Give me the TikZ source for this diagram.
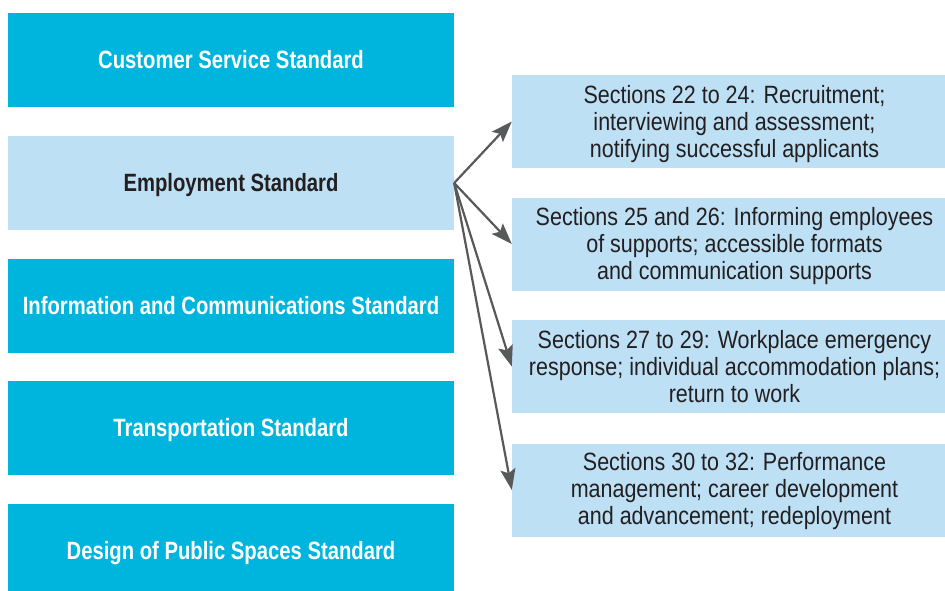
\documentclass[tikz,border=0pt]{standalone}
\usepackage{fontspec}
\setmainfont{Liberation Sans}
\newfontfamily\stdfont[FakeStretch=0.81]{Liberation Sans}
\newfontfamily\secfont[FakeStretch=0.86]{Liberation Sans}
\usetikzlibrary{arrows.meta}
\definecolor{stdblue}{HTML}{00B5DD}
\definecolor{secblue}{HTML}{BDE0F5}
\definecolor{arrgray}{HTML}{58595B}
\definecolor{txtdark}{HTML}{231F20}
\tikzset{
  stdbox/.style={fill=stdblue, text=white, font=\stdfont\bfseries\fontsize{25}{28}\selectfont,
    minimum width=446pt, minimum height=94pt, inner sep=0pt, text depth=1pt},
  empbox/.style={stdbox, fill=secblue, text=txtdark},
  secbox/.style={fill=secblue, minimum width=433pt, minimum height=93pt, inner sep=0pt},
  sectext/.style={text=txtdark, font=\secfont\fontsize{25}{27}\selectfont, align=center, inner sep=0pt},
  arr/.style={draw=arrgray, line width=2.2pt, -{Stealth[length=21pt, width=15pt, inset=4pt]}}
}
\begin{document}
\begin{tikzpicture}[x=1pt, y=-1pt, line join=round]
  \useasboundingbox (0,0) rectangle (945,591);
  \clip (0,0) rectangle (945,591);
  % standards on the left
  \node[stdbox] (cust) at (231,60) {Customer Service Standard};
  \node[empbox] (emp) at (231,183) {Employment Standard};
  \node[stdbox] (info) at (231,306) {Information and Communications Standard};
  \node[stdbox] (trans) at (231,428) {Transportation Standard};
  \node[stdbox] (pub) at (231,551) {Design of Public Spaces Standard};
  % sections of the employment standard
  \foreach \n/\y/\dy/\t in {
      secA/121.5/3/{Sections 22 to 24: Recruitment;\\interviewing and assessment;\\notifying successful applicants},
      secB/244/2/{Sections 25 and 26: Informing employees\\of supports; accessible formats\\and communication supports},
      secC/366.5/0/{Sections 27 to 29: Workplace emergency\\response; individual accommodation plans;\\return to work},
      secD/490/1/{Sections 30 to 32: Performance\\management; career development\\and advancement; redeployment}}{
    \node[secbox] (\n) at (728.5,\y) {};
    \node[sectext] (\n-txt) at (734.5,\y+\dy) {\t};
    \draw[arr] (emp.east) -- (\n.west);
  }
\end{tikzpicture}
\end{document}
